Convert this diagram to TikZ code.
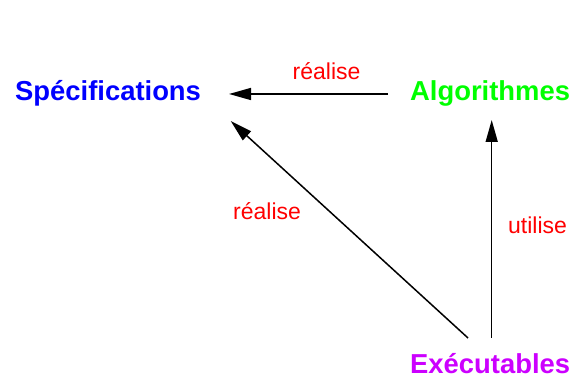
\documentclass[tikz,border=0pt]{standalone}
\usepackage{fontspec}
\setmainfont{Liberation Sans}
\usetikzlibrary{arrows.meta,calc}
\definecolor{specblue}{RGB}{0,0,255}
\definecolor{algogreen}{RGB}{0,255,0}
\definecolor{exepurple}{RGB}{204,0,255}
\definecolor{labred}{RGB}{255,0,0}
\begin{document}
\begin{tikzpicture}[x=1pt,y=1pt,
  title/.style={anchor=base west,inner sep=0pt,font=\fontsize{27.4}{30}\selectfont\bfseries},
  lab/.style={anchor=base west,inner sep=0pt,text=labred,font=\fontsize{23}{26}\selectfont},
  arr/.style={line width=1.5pt,-{Triangle[length=22pt,width=12pt]}}]
\useasboundingbox (0,0) rectangle (573,382);
\node[title,text=specblue] (spec) at (15,281) {Spécifications};
\node[title,text=algogreen] (alg) at (410,281) {Algorithmes};
\node[title,text=exepurple] (exe) at (410,8) {Exécutables};
\node[lab] (l1) at (292.5,302) {réalise};
\node[lab] (l2) at (233,162.7) {réalise};
\node[lab] (l3) at (508,148) {utilise};
\draw[arr] ($(alg.base west)+(-22,7)$) -- ($(spec.base west)+(214,7)$);
\draw[arr] ($(exe.base west)+(81.7,36)$) -- ($(alg.base west)+(81.7,-19)$);
\draw[arr] ($(exe.base west)+(58,36)$) -- ($(spec.base west)+(215.7,-20)$);
\end{tikzpicture}
\end{document}
